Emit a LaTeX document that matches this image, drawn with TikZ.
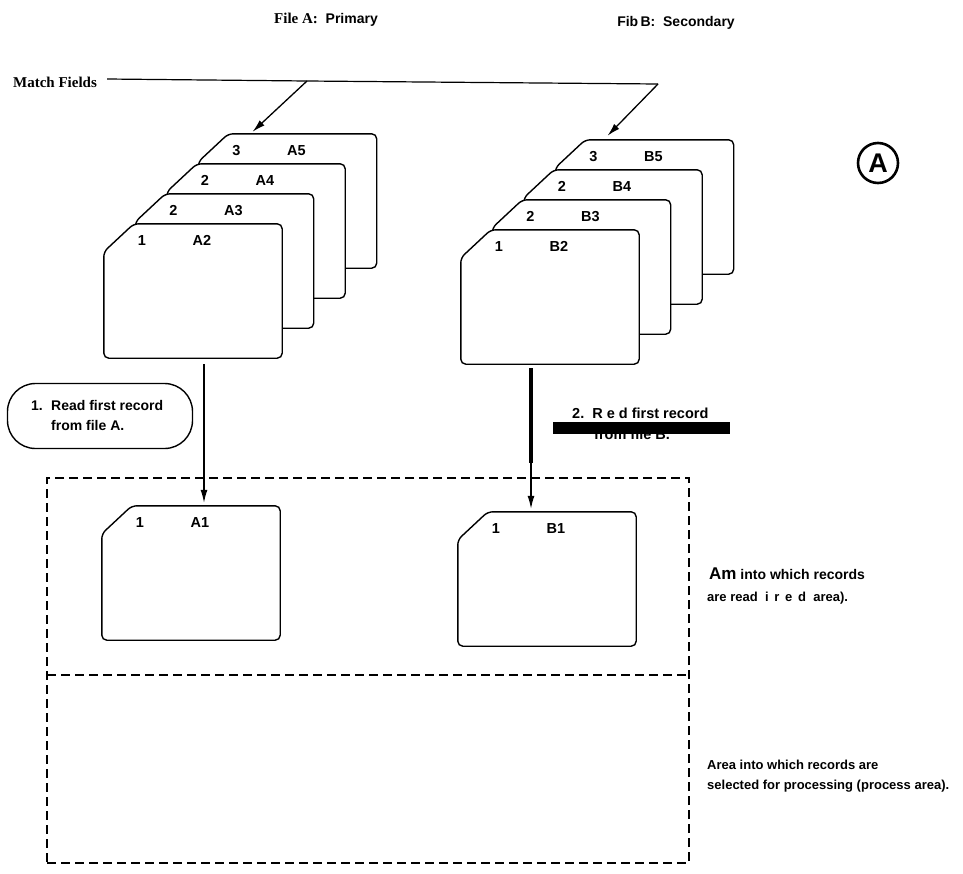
\documentclass[tikz,border=0pt]{standalone}
\usepackage{fontspec}
\setmainfont{Liberation Serif}
\setsansfont{Liberation Sans}
\usetikzlibrary{arrows.meta,calc}
\newcommand\drawcard[1]{\draw[cardline] ([xshift=30pt]#1.north west) -- (#1.north east) -- (#1.south east) -- (#1.south west) -- ([yshift=-28pt]#1.north west) -- cycle;}
\newcommand\cardlabels[3]{\node[lbl] (#1num) at ([xshift=38pt,yshift=-17pt]#1.north west) {#2};\node[lbl] (#1id) at ([xshift=98pt,yshift=-17pt]#1.north west) {#3};}
\newcommand\fullcard[4]{\node[cardbox] (#1) at (#2) {};\drawcard{#1}\cardlabels{#1}{#3}{#4}}
\tikzset{
 cardline/.style={draw, fill=white, line width=1.4pt, rounded corners=5pt},
 cardbox/.style={inner sep=0pt, minimum width=178pt, minimum height=134pt},
 lbl/.style={font=\sffamily\bfseries\fontsize{14.5}{16}\selectfont, inner sep=0pt},
 arr/.style={line width=1.3pt, -{Latex[length=13pt,width=7pt]}},
 area/.style={draw, dash pattern=on 9pt off 5pt, line width=1.8pt, inner sep=0pt},
 note/.style={font=\sffamily\bfseries\fontsize{13}{20}\selectfont, inner sep=0pt, anchor=base west},
 title/.style={font=\sffamily\bfseries\fontsize{14}{16}\selectfont, inner sep=0pt},
}
\begin{document}
\begin{tikzpicture}[x=1pt,y=-1pt]
\useasboundingbox (0,0) rectangle (963,873);
% titles
\node[title] (fa) at (326,20) {{\rmfamily\fontsize{15}{16}\selectfont File A:}\ \ Primary};
\node[title] (fb) at (676,23) {Fib\,B:\ \ Secondary};
% match fields
\node[font=\rmfamily\bfseries\fontsize{15}{16}\selectfont, inner sep=0pt] (mf) at (55,82) {Match Fields};
\coordinate (mfA) at (307,81);
\coordinate (mfend) at (658,84);
\draw[line width=1.2pt] ([xshift=10pt,yshift=3pt]mf.east) -- (mfA) -- (mfend);
% stack A
\fullcard{A5}{287.5,201}{3}{A5}
\fullcard{A4}{256,231}{2}{A4}
\fullcard{A3}{224.5,261}{2}{A3}
\fullcard{A2}{193,291}{1}{A2}
% stack B
\fullcard{B5}{644.5,207}{3}{B5}
\fullcard{B4}{613,237}{2}{B4}
\fullcard{B3}{581.5,267}{2}{B3}
\fullcard{B2}{550,297}{1}{B2}
% arrows from match fields
\draw[arr] (mfA) -- ([xshift=-35pt,yshift=2pt]A5.north);
\draw[arr] (mfend) -- ([xshift=-37pt,yshift=4pt]B5.north);
% dashed areas
\node[area, minimum width=642pt, minimum height=385pt] (areas) at (368,670.5) {};
\coordinate (divL) at (47,675);
\coordinate (divR) at (689,675);
\draw[area] (divL) -- (divR);
% bottom cards
\fullcard{A1}{191,573}{1}{A1}
\fullcard{B1}{547,579}{1}{B1}
% step 1
\node[draw, line width=1.4pt, rounded corners=28pt, minimum width=185pt, minimum height=65pt] (step1) at (100,416) {};
\node[font=\sffamily\bfseries\fontsize{14}{20}\selectfont, align=left, anchor=west, inner sep=0pt] (step1txt) at (31,415)
  {\makebox[20pt][l]{1.}Read first record\\\hspace*{20pt}from file A.};
\draw[arr] ([xshift=11pt,yshift=-6pt]A2.south) -- ([xshift=13pt,yshift=3pt]A1.north);
% step 2
\node[note, font=\sffamily\bfseries\fontsize{14.5}{15}\selectfont] (step2) at (572,418) {2.\ \ R e d first record};
\node[note, font=\sffamily\bfseries\fontsize{14.5}{15}\selectfont] (step2b) at (594,439) {from file B.};
\node[fill=black, inner sep=0pt, minimum width=177pt, minimum height=12pt] (bar) at (641.5,428) {};
\coordinate (bmid) at (531,463);
\draw[line width=4pt] ([xshift=-19pt,yshift=-4pt]B2.south) -- (bmid);
\draw[arr] (bmid) -- ([xshift=-16pt,yshift=3pt]B1.north);
% right notes
\node[note, font=\sffamily\bfseries\fontsize{14}{20}\selectfont] (n1) at (709,579) {{\fontsize{17}{20}\selectfont Am} into which records};
\node[note] (n2) at (707,601) {are read\ \ i\,\ r\,\ e\,\ d\ \ area).};
\node[note] (n3) at (707,769) {Area into which records are};
\node[note] (n4) at (707,789) {selected for processing (process area).};
% circle A
\node[circle, draw, line width=2.6pt, minimum size=40pt, inner sep=0pt,
  font=\sffamily\bfseries\fontsize{27}{27}\selectfont] (mark) at (878,163) {A};
\end{tikzpicture}
\end{document}
